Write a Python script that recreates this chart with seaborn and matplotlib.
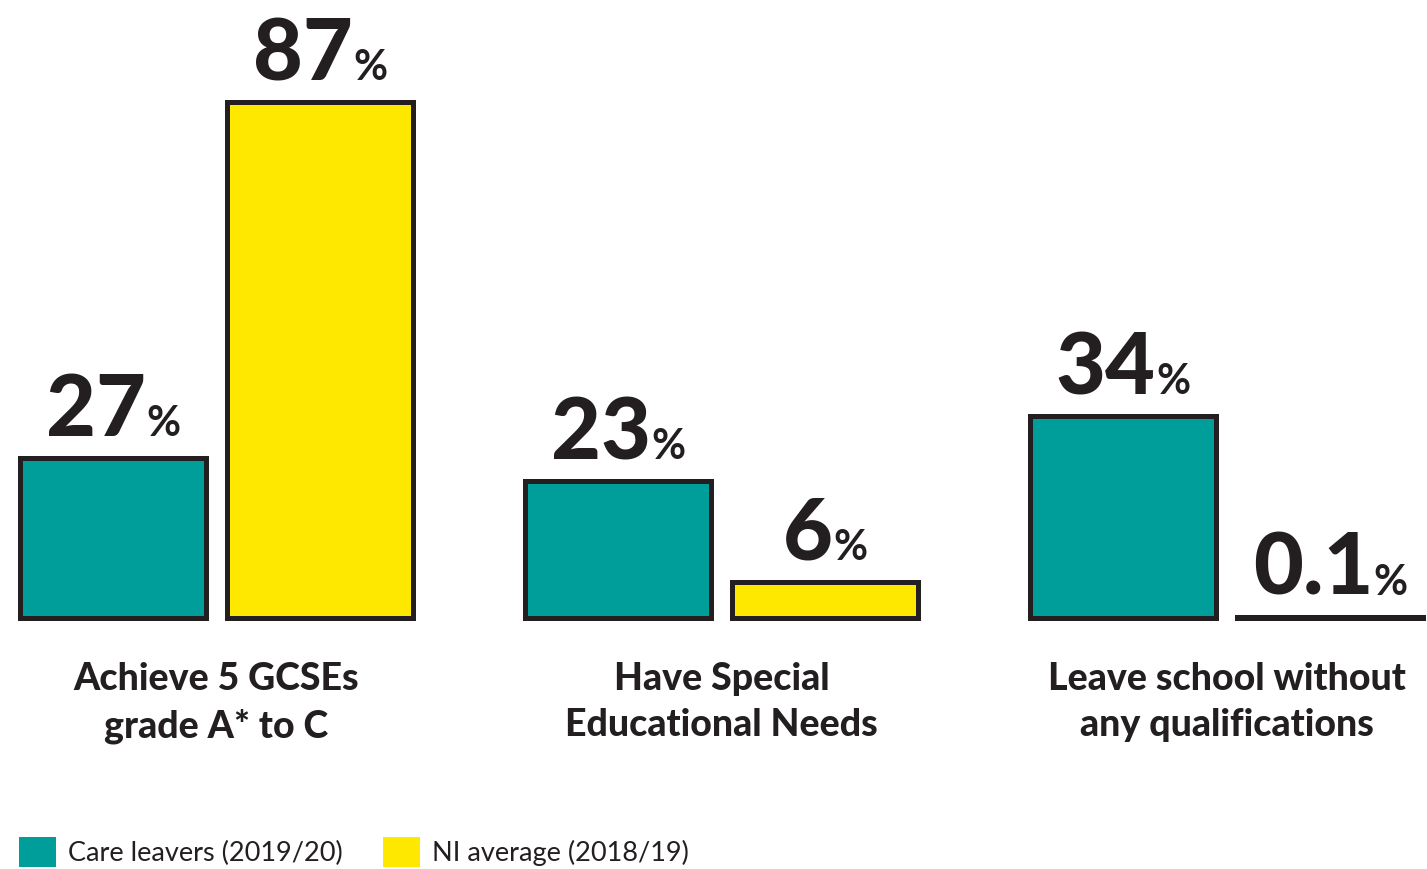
import matplotlib
matplotlib.use("Agg")
import matplotlib.pyplot as plt
import seaborn as sns
import pandas as pd
from matplotlib.patches import Patch
from matplotlib.transforms import offset_copy

# ---- data ----
categories = ["Achieve 5 GCSEs\ngrade A* to C",
              "Have Special\nEducational Needs",
              "Leave school without\nany qualifications"]
series = ["Care leavers (2019/20)", "NI average (2018/19)"]
care_leavers = [27, 23, 34]
ni_average = [87, 6, 0.1]
care_labels = ["27", "23", "34"]
ni_labels = ["87", "6", "0.1"]

df = pd.DataFrame({
    "category": categories * 2,
    "series": [series[0]] * 3 + [series[1]] * 3,
    "value": care_leavers + ni_average,
})

TEAL = "#009E9A"
YELLOW = "#FFE800"
DARK = "#231F20"

sns.set_theme(style="white")
plt.rcParams["font.family"] = ["Lato", "DejaVu Sans"]

W, H = 1427, 869
fig = plt.figure(figsize=(W / 100, H / 100), dpi=100)
ax = fig.add_axes([0, 0, 1, 1])

sns.barplot(data=df, x="category", y="value", hue="series",
            order=categories, hue_order=series,
            palette={series[0]: TEAL, series[1]: YELLOW},
            width=0.82, gap=0.1, edgecolor=DARK, linewidth=3.6,
            saturation=1, errorbar=None, legend=False, ax=ax)

# axis geometry (pixel mapping)
px_per_unit_x = 505.0
x0_center = 216.5
ax.set_xlim(-x0_center / px_per_unit_x, (W - x0_center) / px_per_unit_x)
base_px = 617.5
px_per_val = 5.92
ax.set_ylim(-(H - base_px) / px_per_val, base_px / px_per_val)
ax.set_axis_off()

def yval(px_from_top):
    return (base_px - px_from_top) / px_per_val

renderer = fig.canvas.get_renderer()
for cont, labs in zip(ax.containers, [care_labels, ni_labels]):
    for bar, lab in zip(cont, labs):
        cx = bar.get_x() + bar.get_width() / 2
        top = bar.get_height()
        t1 = ax.text(cx, top, lab, fontsize=62, fontweight="black",
                     ha="left", va="baseline", color=DARK)
        t2 = ax.text(cx, top, "%", fontsize=30, fontweight="bold",
                     ha="left", va="baseline", color=DARK)
        w1 = t1.get_window_extent(renderer).width
        w2 = t2.get_window_extent(renderer).width
        gap = 0
        total = w1 + gap + w2
        t1.set_transform(offset_copy(ax.transData, fig=fig, x=-total / 2, y=22, units="dots"))
        t2.set_transform(offset_copy(ax.transData, fig=fig, x=-total / 2 + w1 + gap, y=22, units="dots"))

for i, cat in enumerate(categories):
    ax.text(i, yval(662), cat, fontsize=27, fontweight="black", ha="center",
            va="top", color=DARK, linespacing=1.42)

handles = [Patch(facecolor=TEAL, edgecolor="none"), Patch(facecolor=YELLOW, edgecolor="none")]
fig.legend(handles, series, loc="center left", bbox_to_anchor=(19 / W, 1 - 852 / H),
           ncol=2, frameon=False, handlelength=1.35, handleheight=1.35,
           handletextpad=0.45, columnspacing=1.5, borderpad=0, borderaxespad=0,
           prop={"family": ["Lato", "DejaVu Sans"], "weight": "normal", "size": 19.5},
           labelcolor=DARK)

fig.savefig("out.png", dpi=100, facecolor="white")
